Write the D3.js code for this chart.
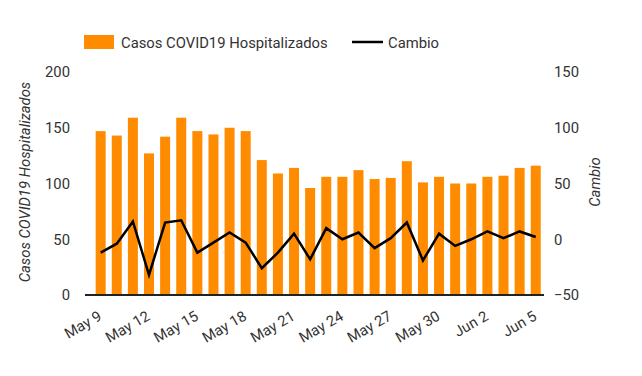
<!DOCTYPE html>
<html>
<head>
<meta charset="utf-8">
<script src="https://cdn.jsdelivr.net/npm/d3@7"></script>
<style>
  body { margin: 0; background: #fff; }
  svg { font-family: Roboto, "Noto Sans", sans-serif; }
</style>
</head>
<body>
<div id="chart"></div>
<script>
// data
var dates = ["May 9", "May 10", "May 11", "May 12", "May 13", "May 14", "May 15",
             "May 16", "May 17", "May 18", "May 19", "May 20", "May 21", "May 22",
             "May 23", "May 24", "May 25", "May 26", "May 27", "May 28", "May 29",
             "May 30", "May 31", "Jun 1", "Jun 2", "Jun 3", "Jun 4", "Jun 5"];
var hospitalizados = [147, 143, 159, 127, 142, 159, 147, 144, 150, 147, 121, 109, 114, 96,
                      106, 106, 112, 104, 105, 120, 101, 106, 100, 100, 106, 107, 114, 116];
var cambio = [-12, -4, 16, -32, 15, 17, -12, -3, 6, -3, -26, -12, 5, -18,
              10, 0, 6, -8, 1, 15, -19, 5, -6, 0, 7, 1, 7, 2];
var tickDates = ["May 9", "May 12", "May 15", "May 18", "May 21", "May 24", "May 27", "May 30", "Jun 2", "Jun 5"];
var leftTicks = [0, 50, 100, 150, 200];
var rightTicks = [-50, 0, 50, 100, 150];

var width = 642, height = 376;
var plotLeft = 85, plotRight = 544, plotTop = 72, plotBottom = 295;
var fontSize = 14.8;

var svg = d3.select("#chart").append("svg")
    .attr("width", width)
    .attr("height", height);

var x = d3.scaleBand()
    .domain(dates)
    .range([92.6, 543.8])
    .paddingInner(0.38)
    .paddingOuter(0.19);

var yLeft = d3.scaleLinear().domain([0, 200]).range([plotBottom, plotTop]);
var yRight = d3.scaleLinear().domain([-50, 150]).range([plotBottom, plotTop]);

// bars
svg.append("g").selectAll("rect")
    .data(hospitalizados)
    .enter()
    .append("rect")
    .attr("x", function(d, i){ return x(dates[i]); })
    .attr("width", x.bandwidth())
    .attr("y", function(d){ return yLeft(d); })
    .attr("height", function(d){ return yLeft(0) - yLeft(d); })
    .attr("fill", "#ff8c00");

// change line
var line = d3.line()
    .x(function(d, i){ return x(dates[i]) + x.bandwidth() / 2; })
    .y(function(d){ return yRight(d); });

svg.append("path")
    .datum(cambio)
    .attr("d", line)
    .attr("fill", "none")
    .attr("stroke", "#000")
    .attr("stroke-width", 2.5)
    .attr("stroke-linejoin", "miter");

// baseline
svg.append("line")
    .attr("x1", plotLeft).attr("x2", plotRight)
    .attr("y1", plotBottom).attr("y2", plotBottom)
    .attr("stroke", "#222")
    .attr("stroke-width", 2);

// left axis
var leftAxis = d3.axisLeft(yLeft).tickValues(leftTicks).tickSize(0).tickPadding(0);
var gl = svg.append("g").attr("transform", "translate(70,0)").call(leftAxis);
gl.select(".domain").remove();
gl.selectAll("text").attr("font-size", fontSize).attr("fill", "#333")
    .style("font-family", "Roboto, sans-serif");

// right axis
var rightAxis = d3.axisRight(yRight).tickValues(rightTicks).tickSize(0).tickPadding(0);
var gr = svg.append("g").attr("transform", "translate(554,0)").call(rightAxis);
gr.select(".domain").remove();
gr.selectAll("text").attr("font-size", fontSize).attr("fill", "#333")
    .style("font-family", "Roboto, sans-serif");

// x tick labels
svg.append("g").selectAll("text")
    .data(tickDates)
    .enter()
    .append("text")
    .attr("transform", function(d){
        var cx = x(d) + x.bandwidth() / 2 + 2;
        return "translate(" + cx + ",319) rotate(-30)";
    })
    .attr("text-anchor", "end")
    .attr("font-size", fontSize)
    .attr("fill", "#333")
    .text(function(d){ return d; });

// axis titles
svg.append("text")
    .attr("transform", "translate(30,182) rotate(-90)")
    .attr("text-anchor", "middle")
    .attr("font-size", fontSize)
    .attr("font-style", "italic")
    .attr("fill", "#333")
    .text("Casos COVID19 Hospitalizados");

svg.append("text")
    .attr("transform", "translate(600,182) rotate(-90)")
    .attr("text-anchor", "middle")
    .attr("font-size", fontSize)
    .attr("font-style", "italic")
    .attr("fill", "#333")
    .text("Cambio");

// legend
var legend = svg.append("g");
legend.append("rect")
    .attr("x", 84).attr("y", 35)
    .attr("width", 30).attr("height", 14)
    .attr("fill", "#ff8c00");
legend.append("text")
    .attr("x", 121).attr("y", 47.5)
    .attr("font-size", fontSize)
    .attr("fill", "#333")
    .text("Casos COVID19 Hospitalizados");
legend.append("line")
    .attr("x1", 352).attr("x2", 383)
    .attr("y1", 42).attr("y2", 42)
    .attr("stroke", "#000")
    .attr("stroke-width", 2.5);
legend.append("text")
    .attr("x", 388).attr("y", 47.5)
    .attr("font-size", fontSize)
    .attr("fill", "#333")
    .text("Cambio");
</script>
</body>
</html>
